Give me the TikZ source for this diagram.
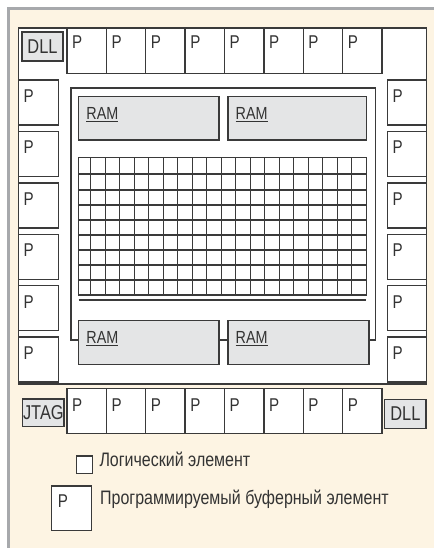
\documentclass[tikz,border=0pt]{standalone}
\usepackage{fontspec}
\setmainfont{Liberation Sans}[FakeStretch=0.82]
\usetikzlibrary{calc,fit}
\definecolor{cream}{HTML}{FDF4E3}
\definecolor{frameg}{HTML}{A7A9AC}
\definecolor{linec}{HTML}{3A3A3A}
\definecolor{boxg}{HTML}{E4E5E6}
\definecolor{txt}{HTML}{333333}
\begin{document}
\begin{tikzpicture}[x=1pt,y=-1pt,
  box/.style={draw=linec, line width=1.4pt, inner sep=0pt, outer sep=0pt},
  pbox/.style={box, fill=white},
  graybox/.style={box, fill=boxg},
  ptext/.style={anchor=north west, inner sep=0pt, text=txt, font=\fontsize{18.5}{19}\selectfont},
  ramtext/.style={anchor=north west, inner sep=0pt, text=txt, font=\fontsize{17.5}{18}\selectfont},
  tagtext/.style={inner sep=0pt, text=txt, font=\fontsize{20}{21}\selectfont},
  legtext/.style={anchor=base west, inner sep=0pt, text=txt, font=\fontsize{19.5}{20}\selectfont},
  gridl/.style={draw=linec, line width=1.4pt}]
\useasboundingbox (0,0) rectangle (434,548);
% background
\fill[white] (0,0) rectangle (434,548);
\fill[cream] (10,10) rectangle (434,548);
\draw[frameg, line width=2.5pt] (7.2,8.5) -- (434,8.5);
\draw[frameg, line width=2.5pt] (8.5,7.2) -- (8.5,548);
% chip
\node[pbox, fit={(18.5,28) (426.7,384)}] (chip) {};
\node[graybox, fit={(22,32) (63,61)}] (dlltop) {};
\node[tagtext] at (dlltop.center) (dlltoptxt) {DLL};
% top and bottom rows
\foreach \i in {1,...,8} {
  \pgfmathsetmacro\xa{67+(\i-1)*39.375}
  \pgfmathsetmacro\xb{\xa+39.375}
  \node[pbox, fit={(\xa,28) (\xb,73.3)}] (t\i) {};
  \node[ptext] at ($(t\i.north west)+(5,8)$) (tp\i) {P};
  \node[pbox, fit={(\xa,388.3) (\xb,433.3)}] (b\i) {};
  \node[ptext] at ($(b\i.north west)+(5,10.5)$) (bp\i) {P};
}
% left and right columns
\foreach \j in {1,...,6} {
  \pgfmathsetmacro\ya{80+(\j-1)*51.4}
  \pgfmathsetmacro\yb{\ya+45}
  \node[pbox, fit={(18.5,\ya) (58.3,\yb)}] (l\j) {};
  \node[ptext] at ($(l\j.north west)+(5,9.5)$) (lp\j) {P};
  \node[pbox, fit={(387.3,\ya) (426.7,\yb)}] (r\j) {};
  \node[ptext] at ($(r\j.north west)+(5,9.5)$) (rp\j) {P};
}
% core
\node[box, fit={(71,88) (375.3,340)}] (core) {};
\node[graybox, fit={(78.7,96.7) (219,140)}] (ramTL) {};
\node[graybox, fit={(228,96.7) (366.3,140)}] (ramTR) {};
\node[graybox, fit={(78.7,320.7) (219,364.3)}] (ramBL) {};
\node[graybox, fit={(228,320.7) (369,364.3)}] (ramBR) {};
\foreach \r in {TL,TR,BL,BR}
  \node[ramtext] at ($(ram\r.north west)+(7.5,10.6)$) (ramt\r) {\underline{RAM}};
% grid
\draw[gridl] (78.7,157.3) rectangle (366.2,295);
\foreach \k in {0,...,18}
  \draw[gridl] ({90.7+14.5*\k},157.3) -- ++(0,137.7);
\foreach \y in {174,190,205,220,235,250,265,280}
  \draw[gridl] (78.7,\y) -- (366.2,\y);
\draw[gridl] (78.7,300) -- (366.2,300);
% bottom tags
\node[graybox, fit={(22.7,399) (64,426.7)}] (jtag) {};
\node[tagtext] at (jtag.center) (jtagtxt) {JTAG};
\node[graybox, fit={(384.7,399.3) (426,428.3)}] (dllbot) {};
\node[tagtext] at (dllbot.center) (dllbottxt) {DLL};
% legend
\node[pbox, fit={(76.7,456) (92.3,473.3)}] (legsq) {};
\node[legtext] at (99.3,466.4) (legsqtxt) {Логический элемент};
\node[pbox, fit={(51.7,486) (91.7,530.7)}] (legp) {};
\node[ptext] at ($(legp.north west)+(6,9)$) (legpp) {P};
\node[legtext] at (100,504) (legptxt) {Программируемый буферный элемент};
\end{tikzpicture}
\end{document}
